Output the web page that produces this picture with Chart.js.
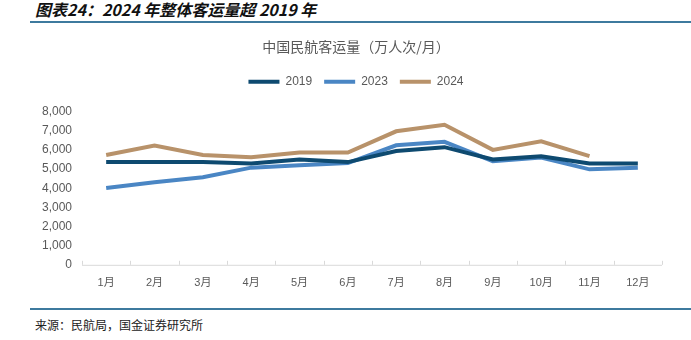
<!DOCTYPE html>
<html>
<head>
<meta charset="utf-8">
<script src="https://cdn.jsdelivr.net/npm/chart.js@4"></script>
<style>
  body { margin: 0; background: #fff; width: 691px; height: 340px; overflow: hidden; position: relative; font-family: "Noto Sans CJK SC", sans-serif; }
  .header { position: absolute; left: 35px; top: 0; font-size: 16px; font-weight: bold; font-style: italic; color: #111; line-height: 18px; }
  .rule { position: absolute; left: 30px; right: 0; height: 2px; background: #3d7a9e; }
  .footer { position: absolute; left: 35px; top: 317px; font-size: 12px; color: #222; line-height: 16px; }
  #wrap { position: absolute; left: 0; top: 30px; width: 691px; height: 272px; }
</style>
</head>
<body>
<div class="header">图表24：2024 年整体客运量超 2019 年</div>
<div class="rule" style="top:21px"></div>
<div id="wrap"><canvas id="chart"></canvas></div>
<div class="rule" style="top:308px"></div>
<div class="footer">来源：民航局，国金证券研究所</div>
<script>
const months = ['1月', '2月', '3月', '4月', '5月', '6月', '7月', '8月', '9月', '10月', '11月', '12月'];
const y2019 = [5370, 5370, 5370, 5300, 5510, 5370, 5950, 6150, 5510, 5680, 5300, 5300];
const y2023 = [4010, 4320, 4580, 5080, 5200, 5320, 6250, 6430, 5420, 5610, 4990, 5080];
const y2024 = [5740, 6240, 5740, 5630, 5870, 5870, 6980, 7320, 6010, 6460, 5680, null];

const textColor = '#595959';

// small tick marks pointing up from the x axis line
const upTicks = {
  id: 'upTicks',
  afterDraw(chart) {
    const x = chart.scales.x;
    const ctx = chart.ctx;
    const bottom = chart.chartArea.bottom;
    ctx.save();
    ctx.strokeStyle = '#d9d9d9';
    ctx.lineWidth = 1;
    ctx.beginPath();
    for (let i = 0; i <= months.length; i++) {
      const px = Math.round(x.getPixelForValue(i - 0.5)) + 0.5;
      ctx.moveTo(px, bottom);
      ctx.lineTo(px, bottom - 4);
    }
    ctx.moveTo(chart.chartArea.left, bottom + 0.5);
    ctx.lineTo(chart.chartArea.right, bottom + 0.5);
    ctx.stroke();
    ctx.restore();
  }
};

// extra room under the legend
const legendGap = {
  id: 'legendGap',
  beforeInit(chart) {
    const fit = chart.legend.fit;
    chart.legend.fit = function () {
      fit.bind(chart.legend)();
      this.height += 14;
    };
  }
};

function series(label, data, color) {
  return {
    label,
    data,
    borderColor: color,
    backgroundColor: color,
    borderWidth: 4,
    pointRadius: 0,
    tension: 0,
    spanGaps: false
  };
}

new Chart(document.getElementById('chart'), {
  type: 'line',
  data: {
    labels: months,
    datasets: [
      series('2019', y2019, '#0e4a70'),
      series('2023', y2023, '#4a86c4'),
      series('2024', y2024, '#b8926a')
    ]
  },
  options: {
    responsive: true,
    maintainAspectRatio: false,
    animation: false,
    layout: { padding: { left: 50, right: 29, top: 0, bottom: 0 } },
    plugins: {
      title: {
        display: true,
        text: '中国民航客运量（万人次/月）',
        color: textColor,
        font: { family: '"Noto Sans CJK SC"', size: 14, weight: 'normal' },
        padding: { top: 8, bottom: 9 }
      },
      legend: {
        position: 'top',
        labels: {
          color: textColor,
          font: { family: 'Arial, "Liberation Sans"', size: 12 },
          boxWidth: 31,
          boxHeight: 4,
          useBorderRadius: true,
          borderRadius: 2,
          padding: 12,
          generateLabels(chart) {
            return chart.data.datasets.map((d, i) => ({
              text: d.label,
              fillStyle: d.borderColor,
              strokeStyle: d.borderColor,
              lineWidth: 0,
              fontColor: textColor,
              datasetIndex: i,
              hidden: false
            }));
          }
        }
      },
      tooltip: { enabled: false }
    },
    scales: {
      x: {
        offset: true,
        grid: { display: false, drawTicks: false },
        border: { display: false },
        ticks: {
          color: textColor,
          font: { family: 'Arial, "Liberation Sans", "Noto Sans CJK SC"', size: 11 },
          padding: 12,
          maxRotation: 0
        }
      },
      y: {
        min: 0,
        max: 8000,
        grid: { display: false, drawTicks: false },
        border: { display: false },
        afterFit(scale) {
          scale.width = 32;
          // let the labels run into the left padding
          scale._computeLabelArea = () => undefined;
        },
        ticks: {
          stepSize: 1000,
          color: textColor,
          font: { family: 'Arial, "Liberation Sans"', size: 12 },
          padding: 10,
          callback: v => v.toLocaleString('en-US')
        }
      }
    }
  },
  plugins: [upTicks, legendGap]
});
</script>
</body>
</html>
